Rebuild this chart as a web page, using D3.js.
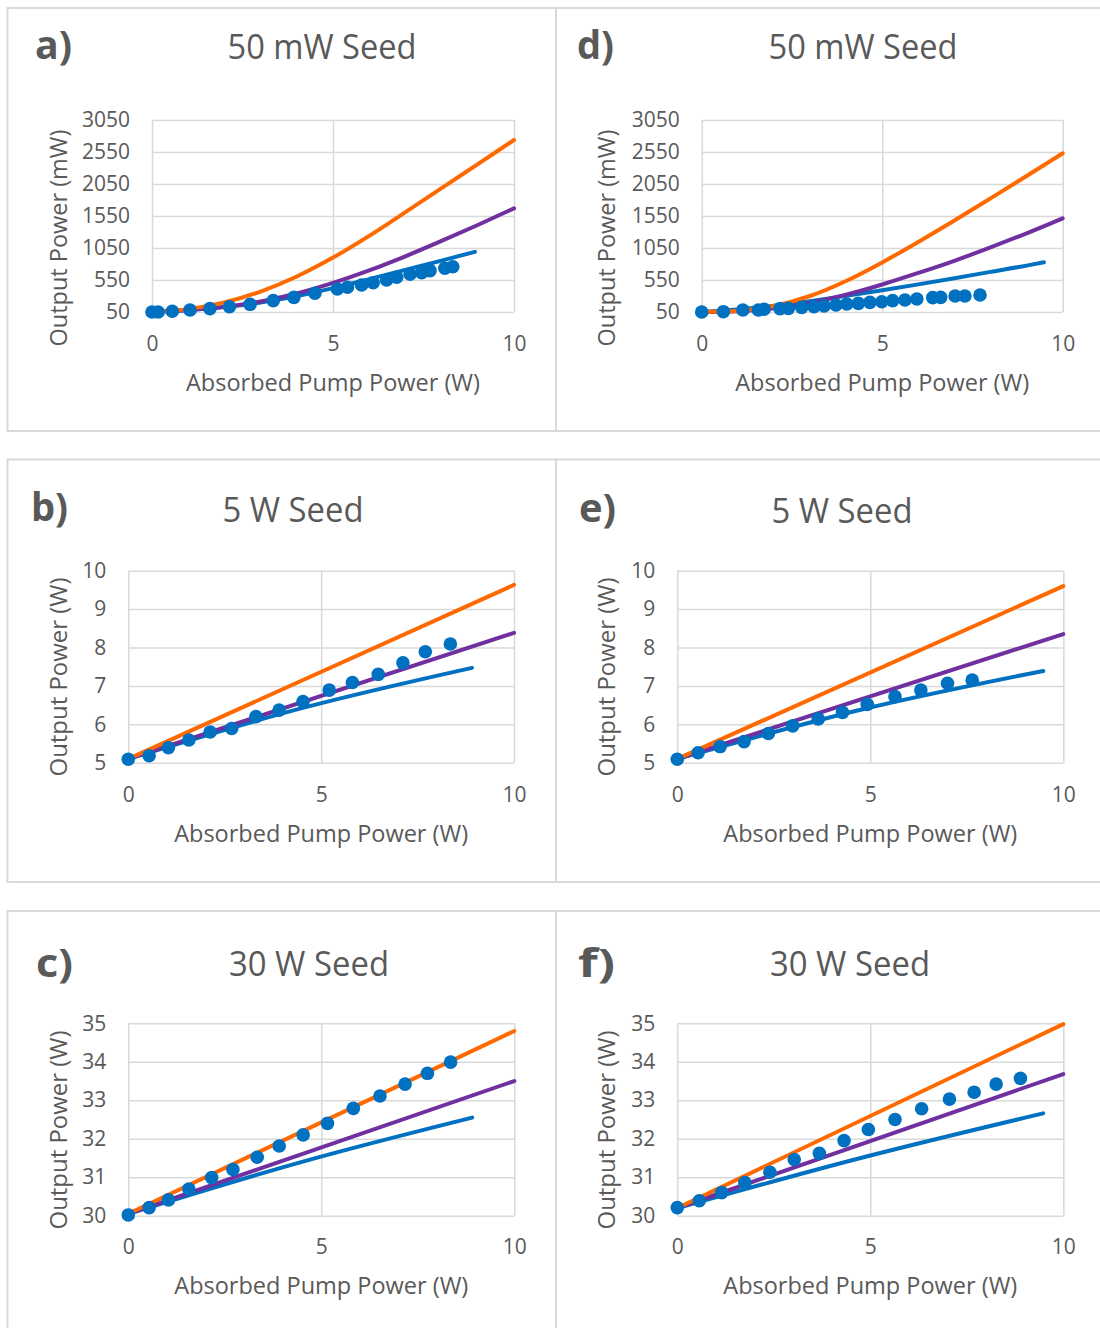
<!DOCTYPE html>
<html>
<head>
<meta charset="utf-8">
<script src="https://cdn.jsdelivr.net/npm/d3@7"></script>
<style>
  html, body { margin: 0; padding: 0; background: #ffffff; }
  svg { display: block; }
  text { font-family: "Open Sans", "Noto Sans", sans-serif; fill: #595959; }
</style>
</head>
<body>
<svg id="chart" width="1100" height="1328"></svg>
<script>
// ---------- shared axis values ----------
const xTicks = [0, 5, 10];
const yTicksMW = [50, 550, 1050, 1550, 2050, 2550, 3050];
const yTicks5W = [5, 6, 7, 8, 9, 10];
const yTicks30W = [30, 31, 32, 33, 34, 35];

// ---------- a) 50 mW seed ----------
const aOrange = [[0,55],[1,95],[2,200],[3,370],[4,605],[5,900],[6,1240],[7,1610],[8,1985],[9,2361],[10,2737]];
const aPurple = [[0,55],[1,80],[2,130],[3,215],[4,340],[5,505],[6,700],[7,920],[8,1160],[9,1410],[10,1670]];
const aBlue   = [[0,50],[1,80],[2,128],[3,198],[4,298],[5,423],[6,563],[7,708],[8,853],[8.92,990]];
const aMeasured = [[0,50],[0.17,50],[0.56,61],[1.05,81],[1.60,102],[2.14,133],[2.71,170],[3.35,227],[3.92,279],[4.50,342],
  [5.12,409],[5.40,436],[5.79,472],[6.11,508],[6.48,550],[6.76,592],[7.13,639],[7.45,664],[7.68,696],[8.09,733],[8.31,758]];

// ---------- d) 50 mW seed ----------
const dOrange = [[0,50],[1,70],[2,145],[3,300],[4,535],[5,825],[6,1145],[7,1480],[8,1825],[9,2175],[10,2530]];
const dPurple = [[0,50],[1,62],[2,110],[3,195],[4,320],[5,480],[6,660],[7,850],[8,1060],[9,1280],[10,1514]];
const dBlue   = [[0,50],[1,90],[2,148],[3,220],[4,302],[5,390],[6,482],[7,577],[8,677],[9,775],[9.48,826]];
const dMeasured = [[0,50],[0.60,55],[1.14,81],[1.57,81],[1.73,92],[2.17,102],[2.40,107],[2.77,123],[3.11,133],[3.39,144],
  [3.72,159],[4.02,175],[4.34,185],[4.66,201],[4.99,211],[5.29,227],[5.63,237],[5.96,253],[6.40,274],[6.62,279],
  [7.02,300],[7.29,300],[7.71,316]];

// ---------- b) 5 W seed ----------
const bOrange = [[0,5.1],[10,9.63]];
const bPurple = [[0,5.1],[10,8.38]];
const bBlue   = [[0,5.1],[4.5,6.42],[8.91,7.47]];
const bMeasured = [[0,5.09],[0.54,5.18],[1.04,5.39],[1.57,5.59],[2.12,5.80],[2.68,5.89],[3.31,6.20],[3.91,6.37],
  [4.53,6.59],[5.21,6.89],[5.81,7.09],[6.48,7.30],[7.12,7.60],[7.70,7.89],[8.35,8.09]];

// ---------- e) 5 W seed ----------
const eOrange = [[0,5.1],[10,9.6]];
const ePurple = [[0,5.1],[10,8.35]];
const eBlue   = [[0,5.1],[4.75,6.38],[9.48,7.39]];
const eMeasured = [[0,5.09],[0.54,5.26],[1.11,5.42],[1.73,5.55],[2.36,5.76],[2.99,5.96],[3.65,6.14],[4.28,6.31],
  [4.92,6.52],[5.64,6.72],[6.31,6.89],[7.00,7.07],[7.64,7.15]];

// ---------- c) 30 W seed ----------
const cOrange = [[0,30.05],[10,34.8]];
const cPurple = [[0,30.05],[10,33.5]];
const cBlue   = [[0,30.05],[4.5,31.4],[8.91,32.55]];
const cMeasured = [[0,30.02],[0.54,30.21],[1.04,30.41],[1.57,30.69],[2.16,30.99],[2.71,31.20],[3.34,31.52],[3.91,31.81],
  [4.53,32.10],[5.16,32.40],[5.83,32.79],[6.52,33.11],[7.17,33.42],[7.75,33.70],[8.35,33.99]];

// ---------- f) 30 W seed ----------
const fOrange = [[0,30.2],[10,34.98]];
const fPurple = [[0,30.2],[10,33.68]];
const fBlue   = [[0,30.2],[4.75,31.5],[9.48,32.66]];
const fMeasured = [[0,30.21],[0.57,30.39],[1.15,30.60],[1.75,30.86],[2.40,31.13],[3.03,31.46],[3.68,31.62],[4.32,31.95],
  [4.95,32.24],[5.64,32.50],[6.33,32.78],[7.05,33.03],[7.69,33.21],[8.26,33.42],[8.89,33.57]];

// ---------- panel text ----------
const panelLetters = ["a)", "d)", "b)", "e)", "c)", "f)"];
const panelTitles = ["50 mW Seed", "50 mW Seed", "5 W Seed", "5 W Seed", "30 W Seed", "30 W Seed"];
const xAxisTitle = "Absorbed Pump Power (W)";
const yAxisTitles = ["Output Power (mW)", "Output Power (mW)", "Output Power (W)", "Output Power (W)", "Output Power (W)", "Output Power (W)"];

// ---------- layout (pixels) ----------
const COLORS = { orange: "#FF6A00", purple: "#7030A0", blue: "#0070C0", grid: "#d9d9d9", border: "#d9d9d9" };

const panels = [
  { letter: panelLetters[0], title: panelTitles[0], yTitle: yAxisTitles[0], yTicks: yTicksMW,
    series: [aBlue, aPurple, aOrange], points: aMeasured,
    plot: { l: 152, r: 514, t: 120, b: 312 }, letterPos: [35, 59], titlePos: [322, 59], titleLen: 189,
    yTitlePos: [59, 238], yTitleLen: 217, xTitleY: 391, tickY: 351 },
  { letter: panelLetters[1], title: panelTitles[1], yTitle: yAxisTitles[1], yTicks: yTicksMW,
    series: [dBlue, dPurple, dOrange], points: dMeasured,
    plot: { l: 701.7, r: 1062.7, t: 120, b: 312 }, letterPos: [577, 59], titlePos: [863, 59], titleLen: 189,
    yTitlePos: [607, 238], yTitleLen: 217, xTitleY: 391, tickY: 351 },
  { letter: panelLetters[2], title: panelTitles[2], yTitle: yAxisTitles[2], yTicks: yTicks5W,
    series: [bBlue, bPurple, bOrange], points: bMeasured,
    plot: { l: 128.3, r: 514, t: 570.7, b: 762.7 }, letterPos: [31, 521], titlePos: [293, 522], titleLen: 141,
    yTitlePos: [59, 677], yTitleLen: 199, xTitleY: 842, tickY: 802 },
  { letter: panelLetters[3], title: panelTitles[3], yTitle: yAxisTitles[3], yTicks: yTicks5W,
    series: [eBlue, ePurple, eOrange], points: eMeasured,
    plot: { l: 677.3, r: 1063.3, t: 570.7, b: 762.7 }, letterPos: [579, 522], titlePos: [842, 523], titleLen: 141,
    yTitlePos: [607, 677], yTitleLen: 199, xTitleY: 842, tickY: 802 },
  { letter: panelLetters[4], title: panelTitles[4], yTitle: yAxisTitles[4], yTicks: yTicks30W,
    series: [cBlue, cPurple, cOrange], points: cMeasured,
    plot: { l: 128.3, r: 514.3, t: 1023.3, b: 1215.7 }, letterPos: [36, 977], titlePos: [309, 976], titleLen: 160,
    yTitlePos: [59, 1130], yTitleLen: 199, xTitleY: 1294, tickY: 1254 },
  { letter: panelLetters[5], title: panelTitles[5], yTitle: yAxisTitles[5], yTicks: yTicks30W,
    series: [fBlue, fPurple, fOrange], points: fMeasured,
    plot: { l: 677.3, r: 1063.3, t: 1023.3, b: 1215.7 }, letterPos: [578, 977], titlePos: [850, 976], titleLen: 160,
    yTitlePos: [607, 1130], yTitleLen: 199, xTitleY: 1294, tickY: 1254 }
];

const svg = d3.select("#chart");

// ---------- panel frames ----------
const frames = [
  { x: 7.5, y: 8, w: 548.5, h: 423 }, { x: 556, y: 8, w: 560, h: 423 },
  { x: 7.5, y: 459.5, w: 548.5, h: 422.5 }, { x: 556, y: 459.5, w: 560, h: 422.5 },
  { x: 7.5, y: 911, w: 548.5, h: 440 }, { x: 556, y: 911, w: 560, h: 440 }
];
svg.append("g").selectAll("rect").data(frames).join("rect")
  .attr("x", d => d.x).attr("y", d => d.y).attr("width", d => d.w).attr("height", d => d.h)
  .attr("fill", "none").attr("stroke", COLORS.border).attr("stroke-width", 2);

const seriesColors = [COLORS.blue, COLORS.purple, COLORS.orange];

panels.forEach(p => {
  const g = svg.append("g");
  const x = d3.scaleLinear().domain([0, 10]).range([p.plot.l, p.plot.r]);
  const yDom = d3.extent(p.yTicks);
  const y = d3.scaleLinear().domain(yDom).range([p.plot.b, p.plot.t]);

  // gridlines and tick labels
  const yAxis = d3.axisLeft(y).tickValues(p.yTicks).tickSize(-(p.plot.r - p.plot.l)).tickPadding(22).tickFormat(d3.format("d"));
  const yg = g.append("g").attr("transform", `translate(${p.plot.l},0)`).call(yAxis);
  yg.select(".domain").remove();
  yg.selectAll(".tick line").attr("stroke", COLORS.grid).attr("stroke-width", 1.5);
  yg.selectAll(".tick text").attr("font-size", 21).attr("fill", "#595959")
    .style("font-family", '"Open Sans", sans-serif');

  const xAxis = d3.axisBottom(x).tickValues(xTicks).tickSize(-(p.plot.b - p.plot.t)).tickPadding(0).tickFormat(d3.format("d"));
  const xg = g.append("g").attr("transform", `translate(0,${p.plot.b})`).call(xAxis);
  xg.select(".domain").remove();
  xg.selectAll(".tick line").attr("stroke", COLORS.grid).attr("stroke-width", 1.5);
  xg.selectAll(".tick text").attr("font-size", 21).attr("fill", "#595959")
    .attr("dy", null).attr("y", p.tickY - p.plot.b)
    .style("font-family", '"Open Sans", sans-serif');

  // model curves
  const line = d3.line().x(d => x(d[0])).y(d => y(d[1])).curve(d3.curveMonotoneX);
  p.series.forEach((s, i) => {
    g.append("path").datum(s).attr("d", line)
      .attr("fill", "none").attr("stroke", seriesColors[i])
      .attr("stroke-width", 4).attr("stroke-linecap", "round");
  });

  // measured points
  g.append("g").selectAll("circle").data(p.points).join("circle")
    .attr("cx", d => x(d[0])).attr("cy", d => y(d[1])).attr("r", 6.8)
    .attr("fill", COLORS.blue);

  // labels
  g.append("text").text(p.letter).attr("x", p.letterPos[0]).attr("y", p.letterPos[1])
    .attr("font-size", 40).attr("font-weight", 700).attr("textLength", 37).attr("lengthAdjust", "spacingAndGlyphs");
  g.append("text").text(p.title).attr("x", p.titlePos[0]).attr("y", p.titlePos[1])
    .attr("text-anchor", "middle").attr("font-size", 35)
    .attr("textLength", p.titleLen).attr("lengthAdjust", "spacingAndGlyphs");
  g.append("text").text(xAxisTitle).attr("x", (p.plot.l + p.plot.r) / 2).attr("y", p.xTitleY)
    .attr("text-anchor", "middle").attr("font-size", 24)
    .attr("textLength", 294).attr("lengthAdjust", "spacingAndGlyphs");
  g.append("text").text(p.yTitle)
    .attr("transform", `translate(${p.yTitlePos[0]},${p.yTitlePos[1]}) rotate(-90)`)
    .attr("text-anchor", "middle").attr("dy", "0.35em").attr("font-size", 24)
    .attr("textLength", p.yTitleLen).attr("lengthAdjust", "spacingAndGlyphs");
});
</script>
</body>
</html>
